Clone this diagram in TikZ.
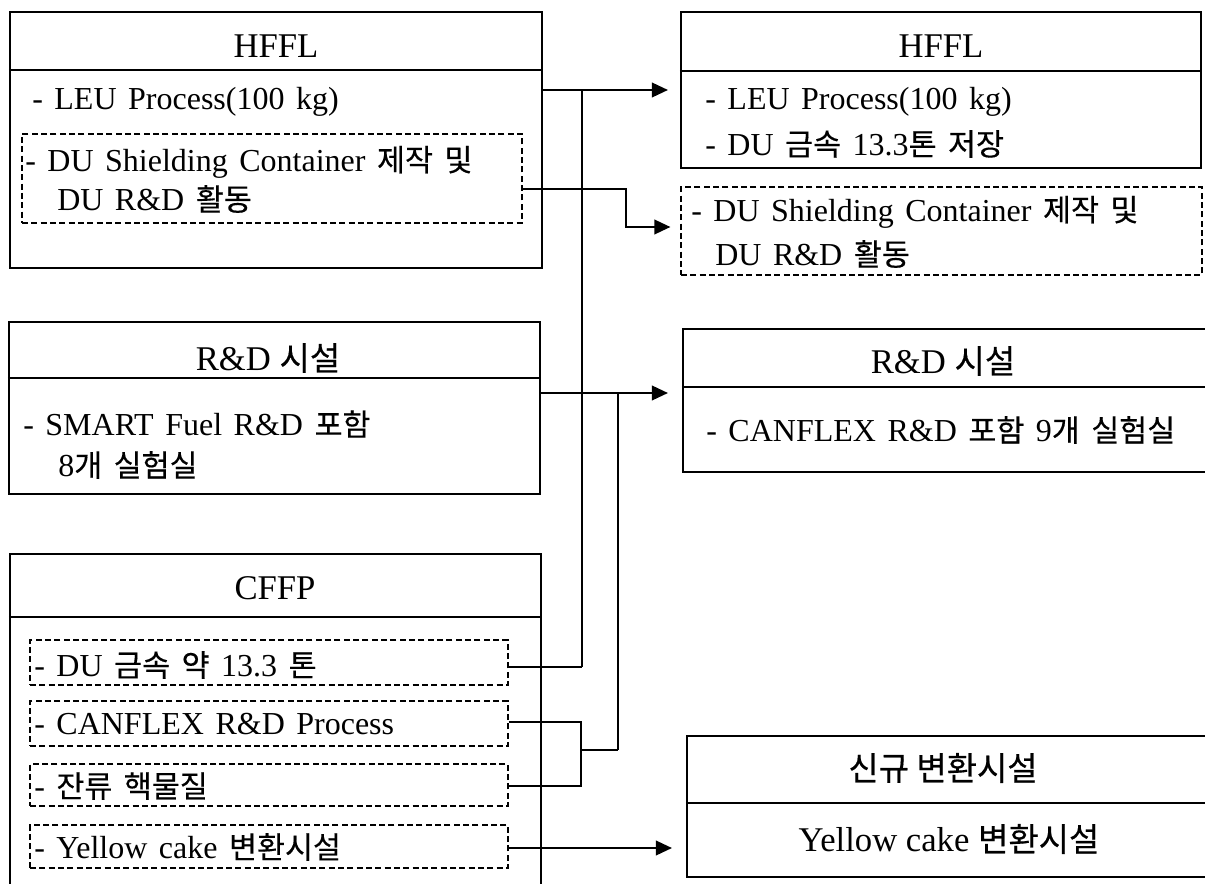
\documentclass[tikz,border=0pt]{standalone}
\usepackage{fontspec}
\setmainfont{Liberation Serif}
\newfontfamily\krfont{Noto Sans CJK KR}[Scale=0.95,FakeBold=0.4]
\usetikzlibrary{arrows.meta,fit}
\newcommand\K[1]{{\krfont #1}}
\newcommand\bodyfnt{\fontsize{24}{29}\selectfont\spaceskip 0.36em\relax}
\newcommand\ttlfnt{\fontsize{26}{30}\selectfont}
\begin{document}
\begin{tikzpicture}[x=0.75pt,y=-0.75pt,
  box/.style={draw, line width=1.6pt, inner sep=0pt},
  dbox/.style={draw, dash pattern=on 4.5pt off 2.5pt, line width=0.9pt, inner sep=0pt},
  divl/.style={line width=1.1pt},
  conn/.style={line width=1.25pt},
  arr/.style={conn, -{Triangle[length=12pt,width=11pt]}},
  ttl/.style={font=\ttlfnt, inner sep=0pt},
  txt/.style={font=\bodyfnt, anchor=west, inner sep=0pt},
]
\useasboundingbox (0,0) rectangle (1205,884);
\clip (0,0) rectangle (1205,884);
\fill[white] (0,0) rectangle (1205,884);

% ---- left HFFL
\node[box, fit={(10,12)(542,268)}] (hfflL) {};
\node[ttl] (hfflLt) at (276,46) {HFFL};
\draw[divl] (hfflL.west |- 0,70) -- (hfflL.east |- 0,70);
\node[txt] (hfflL1) at (32,102) {- LEU Process(100 kg)};
\node[dbox, fit={(22,134)(522,223)}] (duL) {};
\node[txt] (duL1) at (25,162) {- DU Shielding Container \K{제작 및}};
\node[txt] (duL2) at (57,199) {DU R\&D \K{활동}};

% ---- right HFFL
\node[box, fit={(681,12)(1201,168)}] (hfflR) {};
\node[ttl] (hfflRt) at (941,46) {HFFL};
\draw[divl] (hfflR.west |- 0,71) -- (hfflR.east |- 0,71);
\node[txt] (hfflR1) at (705,102) {- LEU Process(100 kg)};
\node[txt] (hfflR2) at (705,144) {- DU \K{금속} 13.3\K{톤 저장}};
\node[dbox, fit={(681,187)(1202,275)}] (duR) {};
\node[txt] (duR1) at (691,212) {- DU Shielding Container \K{제작 및}};
\node[txt] (duR2) at (715,254) {DU R\&D \K{활동}};

% ---- left R&D
\node[box, fit={(9,322)(540,494)}] (rdL) {};
\node[ttl] (rdLt) at (268,358) {R\&D \K{시설}};
\draw[divl] (rdL.west |- 0,378) -- (rdL.east |- 0,378);
\node[txt] (rdL1) at (23,424) {- SMART Fuel R\&D \K{포함}};
\node[txt] (rdL2) at (58,465) {8\K{개 실험실}};

% ---- right R&D
\node[box, fit={(683,329)(1215,472)}] (rdR) {};
\node[ttl] (rdRt) at (943,361) {R\&D \K{시설}};
\draw[divl] (rdR.west |- 0,387) -- (rdR.east |- 0,387);
\node[txt] (rdR1) at (706,430) {- CANFLEX R\&D \K{포함} 9\K{개 실험실}};

% ---- CFFP
\node[box, fit={(10,554)(541,895)}] (cffp) {};
\node[ttl] (cffpt) at (275,588) {CFFP};
\draw[divl] (cffp.west |- 0,617) -- (cffp.east |- 0,617);
\node[dbox, fit={(30,640)(508,685)}] (cdu) {};
\node[txt] (cdu1) at (34,665) {- DU \K{금속 약} 13.3 \K{톤}};
\node[dbox, fit={(30,701)(508,746)}] (ccan) {};
\node[txt] (ccan1) at (34,724) {- CANFLEX R\&D Process};
\node[dbox, fit={(30,764)(508,806)}] (cres) {};
\node[txt] (cres1) at (34,786) {- \K{잔류 핵물질}};
\node[dbox, fit={(30,825)(508,868)}] (cyel) {};
\node[txt] (cyel1) at (34,847) {- Yellow cake \K{변환시설}};

% ---- new conversion facility
\node[box, fit={(687,736)(1215,877)}] (newb) {};
\node[ttl] (newbt) at (943,768) {\K{신규 변환시설}};
\draw[divl] (newb.west |- 0,803) -- (newb.east |- 0,803);
\node[ttl] (newb1) at (949,839) {Yellow cake \K{변환시설}};

% ---- connectors
\coordinate (j1) at (582,90);
\coordinate (j2) at (582,667);
\draw[arr, shorten >=9pt] (hfflL.east |- j1) -- (hfflR.west |- j1);
\draw[conn] (j1) -- (j2);
\draw[conn] (cdu.east |- j2) -- (j2);

\coordinate (k1) at (626,189);
\coordinate (k2) at (626,227);
\draw[arr, shorten >=7.5pt] (duL.east |- k1) -- (k1) -- (k2) -- (duR.west |- k2);

\coordinate (m1) at (618,393);
\coordinate (m2) at (618,750);
\draw[arr, shorten >=10.5pt] (rdL.east |- m1) -- (rdR.west |- m1);
\draw[conn] (m1) -- (m2);

\coordinate (b1) at (581,722);
\coordinate (b2) at (581,786);
\coordinate (bm) at (581,750);
\draw[conn] (ccan.east |- b1) -- (b1) -- (b2) -- (cres.east |- b2);
\draw[conn] (bm) -- (m2);

\coordinate (y1) at (600,848);
\draw[arr, shorten >=10.5pt] (cyel.east |- y1) -- (newb.west |- y1);
\end{tikzpicture}
\end{document}
